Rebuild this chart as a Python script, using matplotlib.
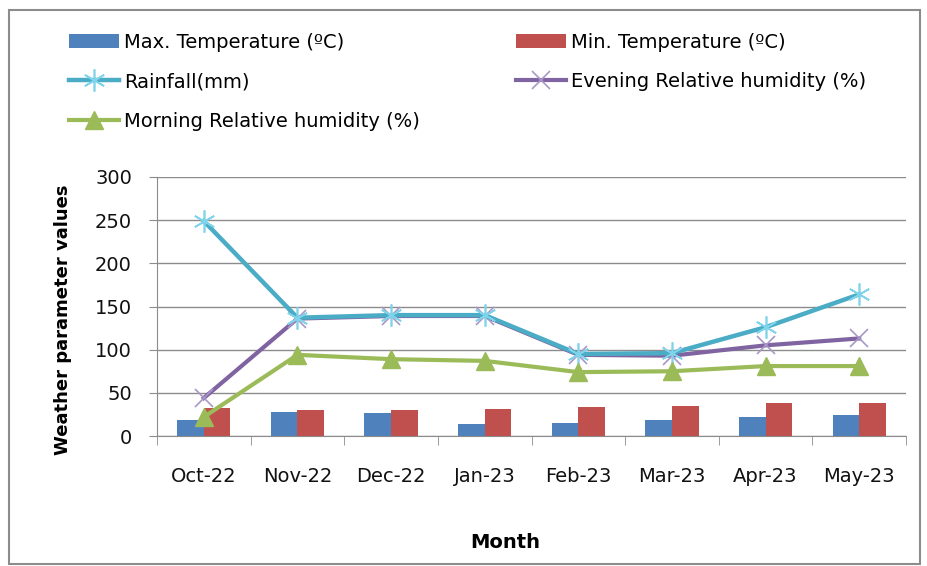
import matplotlib
matplotlib.use("Agg")
import matplotlib.pyplot as plt
from matplotlib.patches import Rectangle
from matplotlib.lines import Line2D
from matplotlib.patches import Patch
import numpy as np

months = ["Oct-22", "Nov-22", "Dec-22", "Jan-23", "Feb-23", "Mar-23", "Apr-23", "May-23"]
max_temp = [19, 28, 27, 14, 15, 18, 22, 24]
min_temp = [33, 30, 30, 31, 34, 35, 38, 38]
rainfall = [249, 137, 140, 140, 95, 96, 126, 164]
evening_rh = [44, 136, 139, 139, 94, 93, 105, 113]
morning_rh = [22, 94, 89, 87, 74, 75, 81, 81]

plt.rcParams['font.family'] = ['DejaVu Sans']

fig = plt.figure(figsize=(9.27, 5.66), dpi=100)
ax = fig.add_axes([157/927, 1-436/566, (906-157)/927, (436-177)/566])

x = np.arange(len(months))
w = 0.285
c_max = "#4F81BD"
c_min = "#C0504D"
c_rain = "#4BACC6"
c_even = "#8064A2"
c_morn = "#9BBB59"

ax.bar(x - w/2, max_temp, w, color=c_max, zorder=2)
ax.bar(x + w/2, min_temp, w, color=c_min, zorder=2)

ax.plot(x, evening_rh, color=c_even, lw=3, marker='x', ms=13, mew=1.2,
        mec="#A898C8", zorder=3)
ax.plot(x, rainfall, color=c_rain, lw=3.2, marker=(6, 2, 0), ms=16, mew=1.2,
        mec="#7FD3EA", zorder=4)
ax.plot(x, morning_rh, color=c_morn, lw=3, marker='^', ms=13, mec=c_morn,
        mfc=c_morn, zorder=5)

ax.set_xlim(-0.5, len(months) - 0.5)
ax.set_ylim(0, 300)
ax.set_yticks([0, 50, 100, 150, 200, 250, 300])
ax.yaxis.grid(True, color="#8C8C8C", lw=1)
ax.set_axisbelow(True)
for s in ["top", "right"]:
    ax.spines[s].set_visible(False)
ax.spines["left"].set_color("#8C8C8C")
ax.spines["bottom"].set_color("#8C8C8C")

ax.set_xticks(x)
ax.set_xticklabels(months, fontsize=14, color="#111111")
ax.tick_params(axis='x', length=0, pad=22)
ax.set_xticks(np.arange(-0.5, len(months)), minor=True)
ax.tick_params(axis='x', which='minor', length=6.5, color="#8C8C8C", direction='out')
ax.tick_params(axis='y', length=6, color="#8C8C8C", labelsize=14, labelcolor="#111111", pad=12)

fig.text(63/927, 1-320/566, "Weather parameter values", rotation=90, fontsize=13,
         fontweight='bold', ha='center', va='center')
fig.text(505/927, 1-542/566, "Month", fontsize=14, fontweight='bold', ha='center', va='center')

h_max = Patch(facecolor=c_max, label="Max. Temperature (ºC)")
h_min = Patch(facecolor=c_min, label="Min. Temperature (ºC)")
h_rain = Line2D([], [], color=c_rain, lw=3.2, marker=(6, 2, 0), ms=16, mew=1.2, mec="#7FD3EA",
                label="Rainfall(mm)")
h_even = Line2D([], [], color=c_even, lw=3, marker='x', ms=13, mew=1.2, mec="#A898C8",
                label="Evening Relative humidity (%)")
h_morn = Line2D([], [], color=c_morn, lw=3, marker='^', ms=13,
                label="Morning Relative humidity (%)")

kw = dict(frameon=False, fontsize=14, handlelength=2.55, handletextpad=0.3,
          labelspacing=1.05, borderaxespad=0, borderpad=0, handleheight=0.75)
leg1 = fig.legend(handles=[h_max, h_rain, h_morn], loc='upper left',
                  bbox_to_anchor=(69/927, 1-33/566), **kw)
leg2 = fig.legend(handles=[h_min, h_even], loc='upper left',
                  bbox_to_anchor=(516/927, 1-33/566), **kw)

fig.patches.append(Rectangle((9/927, 2/566), (920-9)/927, (560-6)/566, transform=fig.transFigure,
                             fill=False, edgecolor="#8C8C8C", lw=1.5))

fig.savefig("out.png", dpi=100)
